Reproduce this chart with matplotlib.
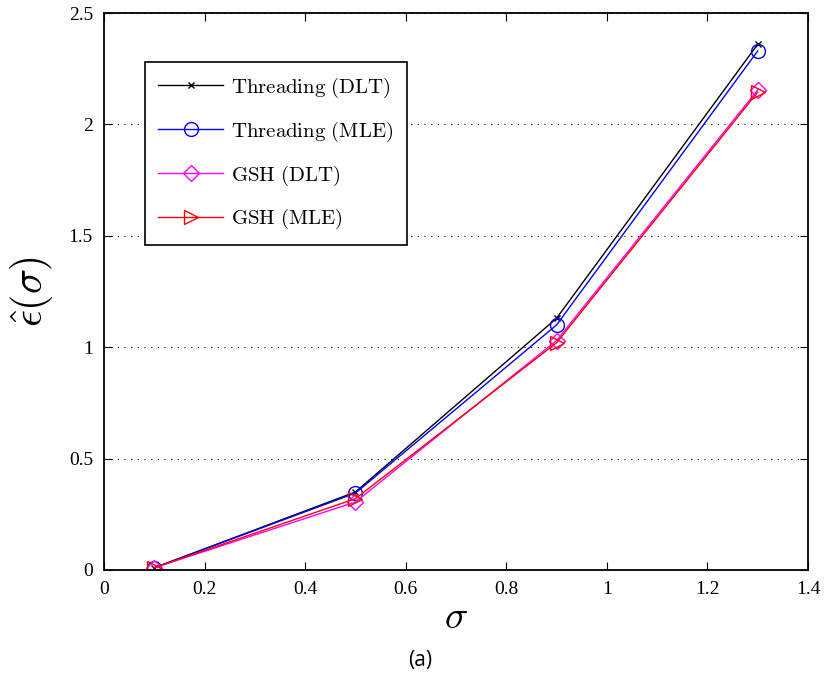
import matplotlib
matplotlib.use("Agg")
import matplotlib.pyplot as plt

sigma = [0.1, 0.5, 0.9, 1.3]
thr_dlt = [0.01, 0.35, 1.13, 2.36]
thr_mle = [0.01, 0.345, 1.10, 2.33]
gsh_dlt = [0.01, 0.305, 1.03, 2.155]
gsh_mle = [0.01, 0.32, 1.02, 2.145]

labels = [r"$\mathrm{Threading\ (DLT)}$", r"$\mathrm{Threading\ (MLE)}$",
          r"$\mathrm{GSH\ (DLT)}$", r"$\mathrm{GSH\ (MLE)}$"]
xticks = [0, 0.2, 0.4, 0.6, 0.8, 1, 1.2, 1.4]
yticks = [0, 0.5, 1, 1.5, 2, 2.5]

plt.rcParams["mathtext.fontset"] = "cm"

fig = plt.figure(figsize=(8.24, 6.75), dpi=100)
ax = fig.add_axes([0.1262, 0.1556, 0.8544, 0.8251])

ax.plot(sigma, thr_dlt, color="black", lw=1.0, marker="x", ms=5, mew=1.0,
        label=labels[0])
ax.plot(sigma, thr_mle, color="blue", lw=1.0, marker="o", ms=10, mfc="none",
        mew=1.0, label=labels[1])
ax.plot(sigma, gsh_dlt, color="magenta", lw=1.0, marker="D", ms=8, mfc="none",
        mew=1.0, label=labels[2])
ax.plot(sigma, gsh_mle, color="red", lw=1.0, marker=">", ms=10, mfc="none",
        mew=1.0, label=labels[3])

ax.set_xlim(0, 1.4)
ax.set_ylim(0, 2.5)
ax.set_xticks(xticks)
ax.set_xticklabels(["0", "0.2", "0.4", "0.6", "0.8", "1", "1.2", "1.4"])
ax.set_yticks(yticks)
ax.set_yticklabels(["0", "0.5", "1", "1.5", "2", "2.5"])
ax.tick_params(direction="in", top=True, right=True, length=6, width=0.8,
               labelsize=14, pad=8)
for lab in ax.get_xticklabels() + ax.get_yticklabels():
    lab.set_family("Liberation Serif")
for sp in ax.spines.values():
    sp.set_linewidth(1.3)

ax.yaxis.grid(True, linestyle=(0, (1, 5)), color="black", lw=0.8)

ax.set_xlabel(r"$\sigma$", fontsize=28, labelpad=0)
ax.set_ylabel(r"$\hat{\epsilon}(\sigma)$", fontsize=30, labelpad=10)

leg = ax.legend(loc="upper left", bbox_to_anchor=(0.058, 0.912),
                prop={"size": 15}, borderaxespad=0,
                fancybox=False, framealpha=1, edgecolor="black",
                handlelength=3.1, borderpad=0.65, labelspacing=0.95,
                handletextpad=0.4)
leg.get_frame().set_linewidth(1.2)

fig.text(0.51, 0.022, "(a)", ha="center", va="center", fontsize=15,
         family="Open Sans")

fig.savefig("out.png", dpi=100)
